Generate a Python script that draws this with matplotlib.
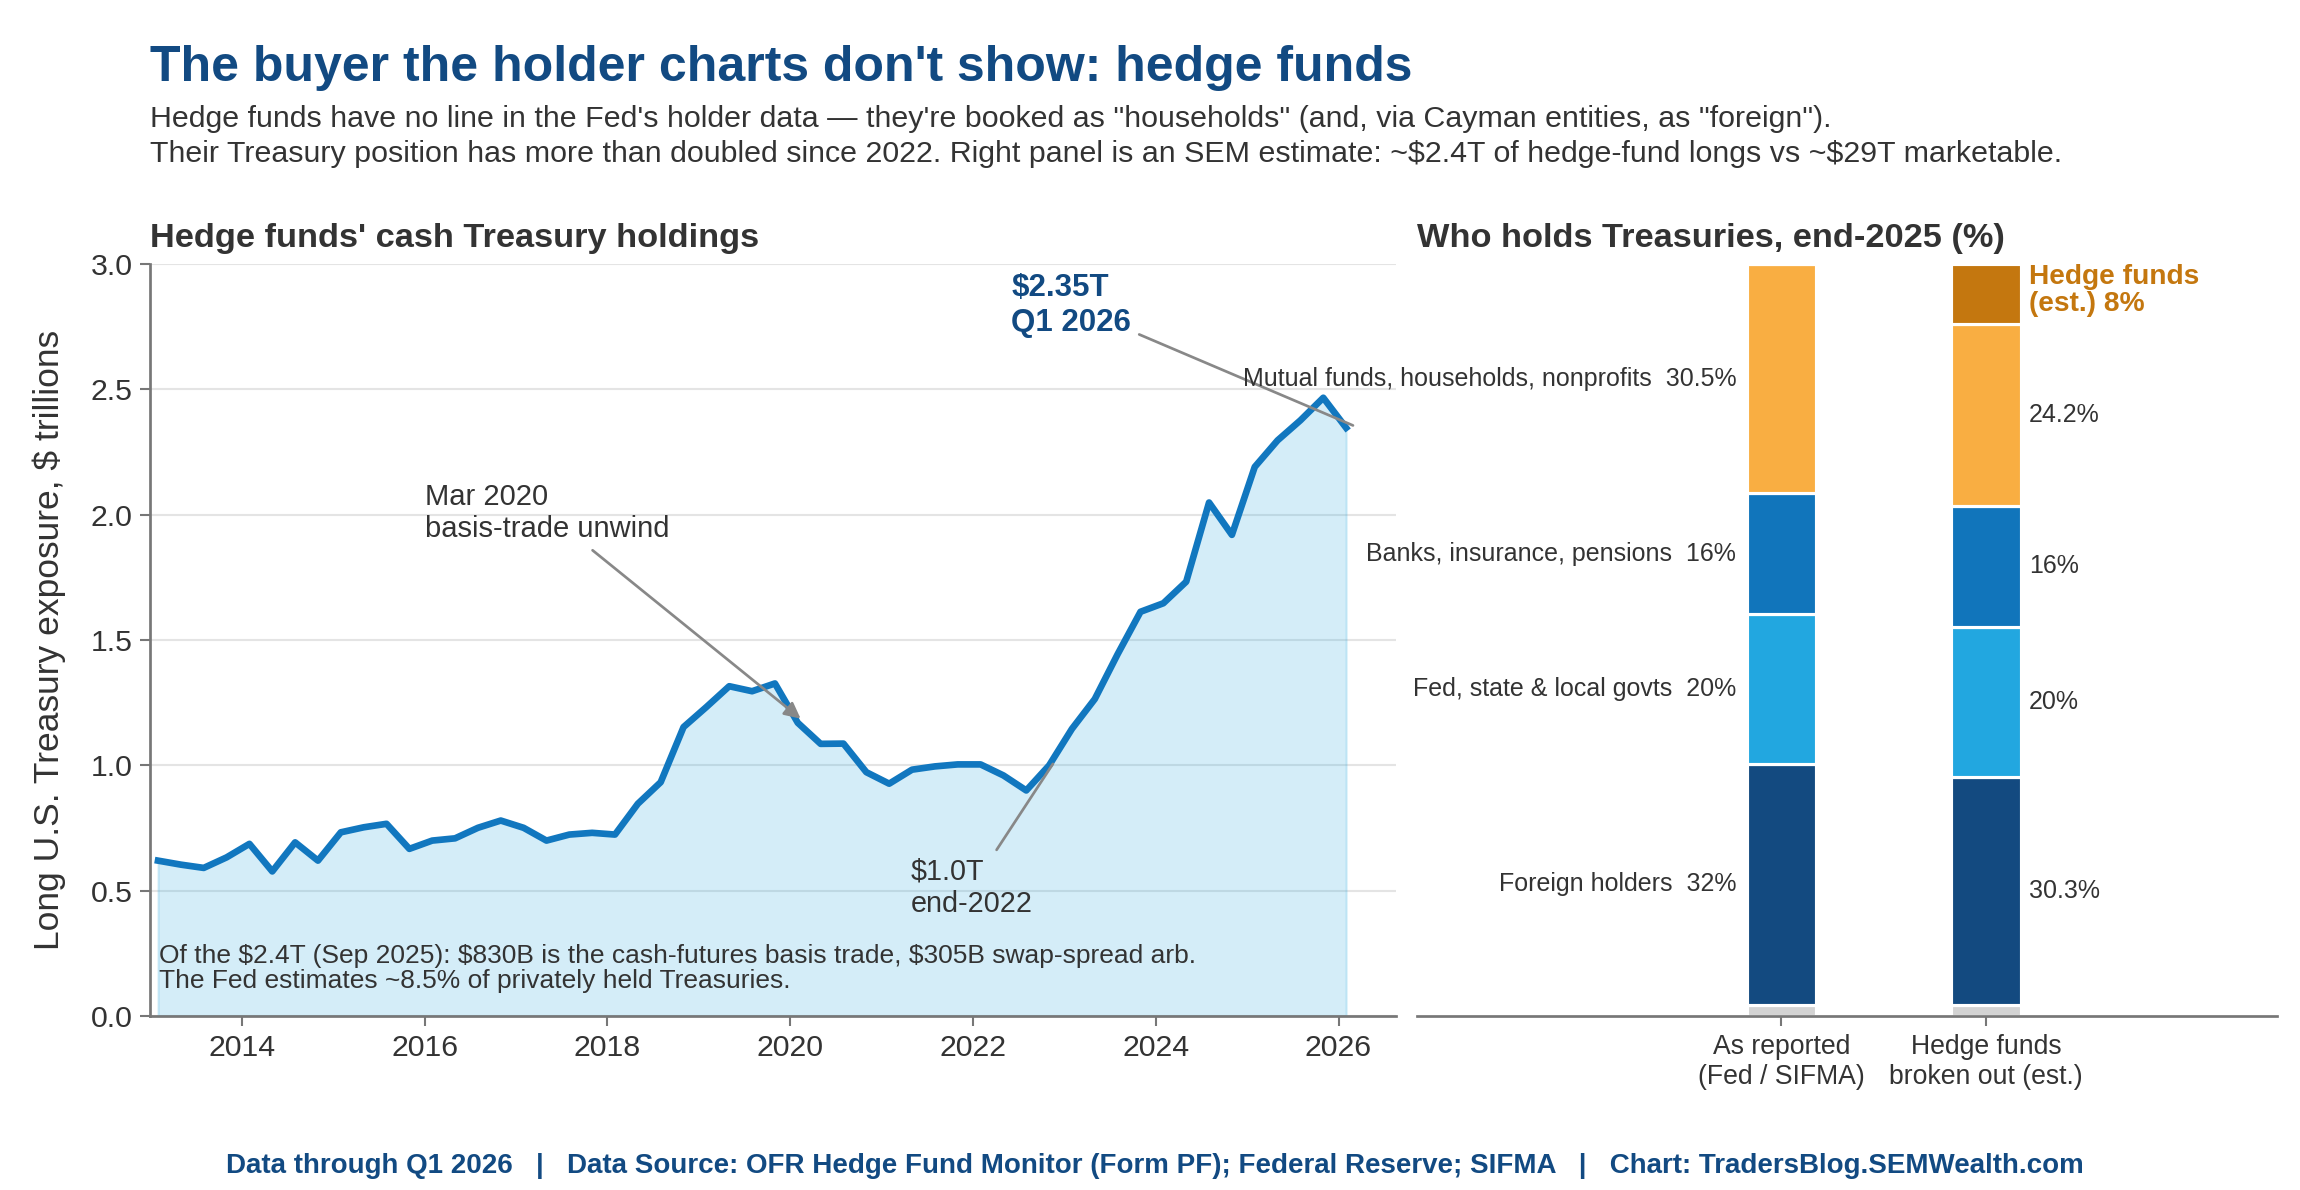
import matplotlib
matplotlib.use('Agg')
import matplotlib.pyplot as plt
import numpy as np

plt.rcParams['font.family'] = ['Liberation Sans', 'DejaVu Sans']
plt.rcParams['text.parse_math'] = False

# quarterly hedge fund cash Treasury holdings, $T (2013Q1 .. 2026Q1)
start_year = 2013
holdings = [0.62, 0.604, 0.591, 0.633, 0.687, 0.577, 0.693, 0.62, 0.733, 0.753,
            0.767, 0.667, 0.70, 0.709, 0.751, 0.78, 0.751, 0.70, 0.724, 0.731,
            0.724, 0.847, 0.933, 1.153, 1.233, 1.316, 1.296, 1.327, 1.17, 1.086,
            1.087, 0.973, 0.927, 0.983, 0.996, 1.004, 1.004, 0.96, 0.90, 1.0,
            1.146, 1.265, 1.444, 1.613, 1.647, 1.733, 2.049, 1.92, 2.191, 2.297,
            2.377, 2.467, 2.347]

# who holds Treasuries, end-2025 (%)
bar_names = ['As reported\n(Fed / SIFMA)', 'Hedge funds\nbroken out (est.)']
other = [1.5, 1.5]
foreign = [32, 30.3]
govts = [20, 20]
banks = [16, 16]
mutual = [30.5, 24.2]
hedge = [0, 8]

BLUE_DARK = '#124a82'
TXT = '#333333'
GREY = '#777777'

quarters = np.arange(len(holdings))
years = start_year + quarters / 4 + 1 / 12

fig = plt.figure(figsize=(2300 / 150, 1190 / 150), dpi=150)

fig.text(0.0654, 0.932, "The buyer the holder charts don't show: hedge funds",
         fontsize=24, fontweight='bold', color=BLUE_DARK, va='baseline')
fig.text(0.0654, 0.864,
         "Hedge funds have no line in the Fed's holder data \u2014 they're booked as \"households\" "
         "(and, via Cayman entities, as \"foreign\").\n"
         "Their Treasury position has more than doubled since 2022. Right panel is an SEM estimate: "
         "~$2.4T of hedge-fund longs vs ~$29T marketable.",
         fontsize=14.6, color=TXT, va='baseline', linespacing=1.3)

# ---- left panel
ax = fig.add_axes([0.0654, 0.1462, 0.5416, 0.6318])
ax.fill_between(years, holdings, 0, color='#29a8e0', alpha=0.2, lw=1)
ax.plot(years, holdings, color='#1177bf', lw=3.2, zorder=3)
ax.set_xlim(2013.0, 2026.63)
ax.set_ylim(0, 3)
ax.set_xticks(range(2014, 2027, 2))
ax.set_yticks(np.arange(0, 3.01, 0.5))
ax.yaxis.set_major_formatter(matplotlib.ticker.FormatStrFormatter('%.1f'))
ax.grid(axis='y', color='#e4e4e4', lw=1)
ax.set_axisbelow(True)
for s in ['top', 'right']:
    ax.spines[s].set_visible(False)
for s in ['left', 'bottom']:
    ax.spines[s].set_color(GREY)
    ax.spines[s].set_linewidth(1.3)
ax.tick_params(colors=GREY, labelcolor=TXT, labelsize=14.5, length=5, width=1)
ax.set_ylabel('Long U.S. Treasury exposure, $ trillions', fontsize=17, color=TXT, labelpad=12)
ax.text(0, 1.0235, "Hedge funds' cash Treasury holdings", transform=ax.transAxes,
        fontsize=16.5, fontweight='bold', color=TXT, va='baseline')

ax.annotate('$2.35T\nQ1 2026', xy=(2026.2, 2.35), xytext=(2022.42, 2.835),
            fontsize=15, fontweight='bold', color=BLUE_DARK, va='center', ha='left',
            arrowprops=dict(arrowstyle='-', color='#888888', lw=1.3))
ax.annotate('Mar 2020\nbasis-trade unwind', xy=(2020.15, 1.176), xytext=(2016.0, 2.006),
            fontsize=14, color=TXT, va='center', ha='left',
            arrowprops=dict(arrowstyle='-|>', color='#888888', lw=1.3, mutation_scale=16))
ax.annotate('$1.0T\nend-2022', xy=(2022.9, 1.02), xytext=(2021.32, 0.512),
            fontsize=13.8, color=TXT, va='center', ha='left',
            arrowprops=dict(arrowstyle='-', color='#888888', lw=1.3))
ax.text(0.007, 0.063,
        "Of the $2.4T (Sep 2025): $830B is the cash-futures basis trade, $305B swap-spread arb.\n"
        "The Fed estimates ~8.5% of privately held Treasuries.",
        transform=ax.transAxes, fontsize=12.7, color=TXT, va='center', linespacing=1.05)

# ---- right panel
ax2 = fig.add_axes([0.616, 0.1462, 0.374, 0.6318])
x = np.arange(len(bar_names))
w = 0.34
layers = [(other, '#d3d3d3'), (foreign, '#134a80'), (govts, '#22a7e0'),
          (banks, '#1175bb'), (mutual, '#f9ae42'), (hedge, '#c4770f')]
bottom = np.zeros(len(bar_names))
for vals, col in layers:
    v = np.array(vals, dtype=float)
    ax2.bar(x, v, w, bottom=bottom, color=col, edgecolor='white', linewidth=1.5)
    bottom += v
ax2.set_xlim(-1.78, 2.42)
ax2.set_ylim(0, 100)
ax2.set_xticks(x)
ax2.set_xticklabels(bar_names, fontsize=12.8, color=TXT)
ax2.set_yticks([])
for s in ['top', 'right', 'left']:
    ax2.spines[s].set_visible(False)
ax2.spines['bottom'].set_color(GREY)
ax2.spines['bottom'].set_linewidth(1.3)
ax2.tick_params(axis='x', colors=GREY, labelcolor=TXT, length=5, width=1)
ax2.text(0, 1.0235, 'Who holds Treasuries, end-2025 (%)', transform=ax2.transAxes,
         fontsize=16.5, fontweight='bold', color=TXT, va='baseline')

left_labels = ['Foreign holders', 'Fed, state & local govts', 'Banks, insurance, pensions',
               'Mutual funds, households, nonprofits']
series = [foreign, govts, banks, mutual]
base_l = other[0]
base_r = other[1]
for name, vals in zip(left_labels, series):
    ax2.text(x[0] - w / 2 - 0.05, base_l + vals[0] / 2, f'{name}  {vals[0]:g}%',
             ha='right', va='center', fontsize=12, color=TXT)
    ax2.text(x[1] + w / 2 + 0.04, base_r + vals[1] / 2, f'{vals[1]:g}%',
             ha='left', va='center', fontsize=12, color=TXT)
    base_l += vals[0]
    base_r += vals[1]
ax2.text(x[1] + w / 2 + 0.04, 100, f'Hedge funds\n(est.) {hedge[1]:g}%', ha='left', va='top',
         fontsize=13.5, fontweight='bold', color='#c4770f', linespacing=1.05)

fig.text(0.502, 0.02,
         'Data through Q1 2026   |   Data Source: OFR Hedge Fund Monitor (Form PF); '
         'Federal Reserve; SIFMA   |   Chart: TradersBlog.SEMWealth.com',
         ha='center', va='center', fontsize=13.3, fontweight='bold', color=BLUE_DARK)

fig.savefig('out.png', dpi=150)
